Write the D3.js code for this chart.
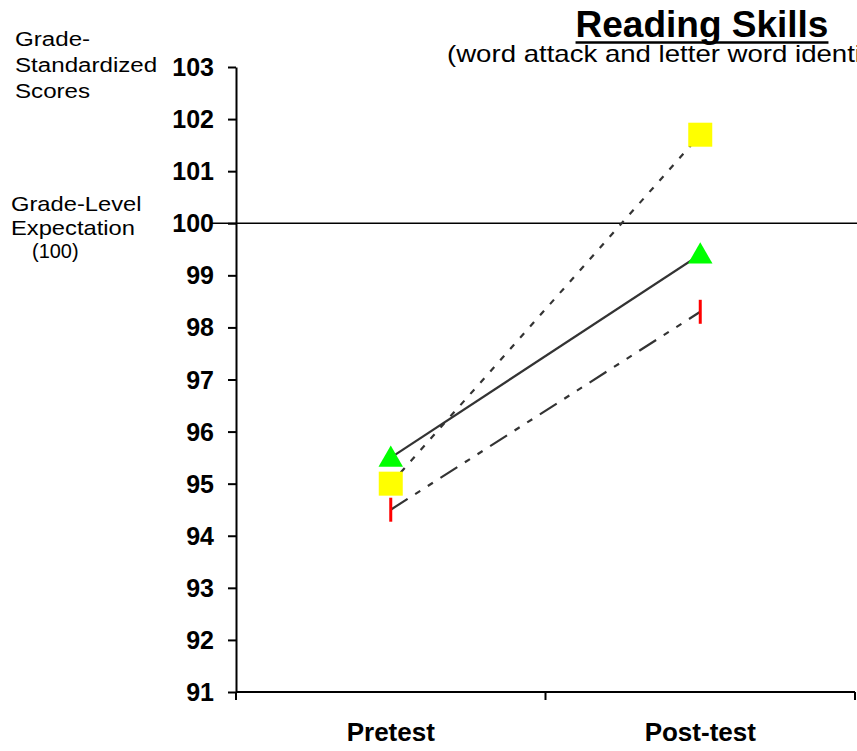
<!DOCTYPE html>
<html>
<head>
<meta charset="utf-8">
<script src="https://cdn.jsdelivr.net/npm/d3@7"></script>
<style>
  html, body { margin: 0; padding: 0; background: #fff; }
  svg { display: block; font-family: "Liberation Sans", Arial, sans-serif; }
</style>
</head>
<body>
<svg id="chart" width="857" height="751"></svg>
<script>
// ---- data ----
const categories = ["Pretest", "Post-test"];
const yTicks = [91, 92, 93, 94, 95, 96, 97, 98, 99, 100, 101, 102, 103];
const seriesNames = ["Series A", "Series B", "Series C"];
const seriesA = [95.5, 99.4];   // green triangles, solid line
const seriesB = [95.0, 101.7];  // yellow squares, dotted line
const seriesC = [94.5, 98.3];   // red dashes, dash-dot-dot line
const referenceValue = 100;
const titleText = "Reading Skills";
const subtitleText = "(word attack and letter word identification)";
const yLabelLines = ["Grade-", "Standardized", "Scores"];
const refLabelLines = ["Grade-Level", "Expectation", "(100)"];

// ---- layout ----
const svg = d3.select("#chart");
const x = d3.scaleBand().domain(categories).range([236, 855]).padding(0);
const y = d3.scaleLinear().domain([91, 103]).range([692, 67]);

// reference line
svg.append("line")
  .attr("x1", 210).attr("x2", 857)
  .attr("y1", y(referenceValue)).attr("y2", y(referenceValue))
  .attr("stroke", "#000").attr("stroke-width", 1.5);

// y axis
const yAxis = svg.append("g").attr("transform", "translate(236,0)")
  .call(d3.axisLeft(y).tickValues(yTicks).tickSize(8).tickSizeOuter(0).tickPadding(14).tickFormat(d3.format("d")));
yAxis.select(".domain").attr("stroke", "#000").attr("stroke-width", 2);
yAxis.selectAll(".tick line").attr("stroke", "#000").attr("stroke-width", 2);
yAxis.selectAll(".tick text").attr("font-size", 25).attr("font-weight", "bold")
  .attr("fill", "#000").attr("font-family", "Liberation Sans, Arial, sans-serif")
  .attr("dy", "0.34em");

// x axis
const bounds = [x.range()[0]].concat(categories.map(c => x(c) + x.bandwidth()));
const xg = svg.append("g");
xg.append("line").attr("x1", x.range()[0]).attr("x2", x.range()[1])
  .attr("y1", y(91)).attr("y2", y(91)).attr("stroke", "#000").attr("stroke-width", 2);
xg.selectAll("line.xt").data(bounds).enter().append("line").attr("class", "xt")
  .attr("x1", d => d).attr("x2", d => d)
  .attr("y1", y(91)).attr("y2", y(91) + 8)
  .attr("stroke", "#000").attr("stroke-width", 2);
xg.selectAll("text").data(categories).enter().append("text")
  .attr("x", d => x(d) + x.bandwidth() / 2).attr("y", 741)
  .attr("text-anchor", "middle").attr("font-size", 26).attr("font-weight", "bold")
  .text(d => d);

// lines
const seriesData = [
  { name: seriesNames[0], values: seriesA, dash: null },
  { name: seriesNames[1], values: seriesB, dash: "6,9" },
  { name: seriesNames[2], values: seriesC, dash: "20,9,6,9,6,9" }
];
const cx = i => x(categories[i]) + x.bandwidth() / 2;
const line = d3.line().x((d, i) => cx(i)).y(d => y(d));
svg.selectAll("path.series").data(seriesData).enter().append("path")
  .attr("class", "series")
  .attr("d", d => line(d.values))
  .attr("fill", "none").attr("stroke", "#333").attr("stroke-width", 2.2)
  .attr("stroke-dasharray", d => d.dash);

// red markers
svg.selectAll("line.mC").data(seriesC).enter().append("line").attr("class", "mC")
  .attr("x1", (d, i) => cx(i)).attr("x2", (d, i) => cx(i))
  .attr("y1", d => y(d) - 12).attr("y2", d => y(d) + 12)
  .attr("stroke", "#ff0000").attr("stroke-width", 3);
// yellow squares
svg.selectAll("rect.mB").data(seriesB).enter().append("rect").attr("class", "mB")
  .attr("x", (d, i) => cx(i) - 12).attr("y", d => y(d) - 12)
  .attr("width", 24).attr("height", 24).attr("fill", "#ffff00");
// green triangles
const tri = d3.symbol().type(d3.symbolTriangle).size(260);
svg.selectAll("path.mA").data(seriesA).enter().append("path").attr("class", "mA")
  .attr("transform", (d, i) => `translate(${cx(i)},${y(d) + 2})`)
  .attr("d", tri).attr("fill", "#00ff00");

// title
const title = svg.append("text").attr("x", 702).attr("y", 37)
  .attr("text-anchor", "middle").attr("font-size", 37).attr("font-weight", "bold")
  .text(titleText);
const tb = title.node().getBBox();
svg.append("line").attr("x1", tb.x).attr("x2", tb.x + tb.width)
  .attr("y1", 42.5).attr("y2", 42.5).attr("stroke", "#000").attr("stroke-width", 2.5);
svg.append("text").attr("transform", "translate(447,62) scale(1.2,1)")
  .attr("font-size", 23)
  .text(subtitleText);

// left labels (slightly wide lettering, as in the original)
svg.append("g").selectAll("text").data(yLabelLines).enter().append("text")
  .attr("transform", (d, i) => `translate(15,${45.5 + i * 26}) scale(1.15,1)`)
  .attr("font-size", 21)
  .text(d => d);
svg.append("g").selectAll("text").data(refLabelLines).enter().append("text")
  .attr("transform", (d, i) => `translate(${i === 2 ? 32 : 11},${[210.5, 235, 257.5][i]}) scale(${i === 2 ? 0.95 : 1.13},1)`)
  .attr("font-size", 21)
  .text(d => d);
</script>
</body>
</html>
